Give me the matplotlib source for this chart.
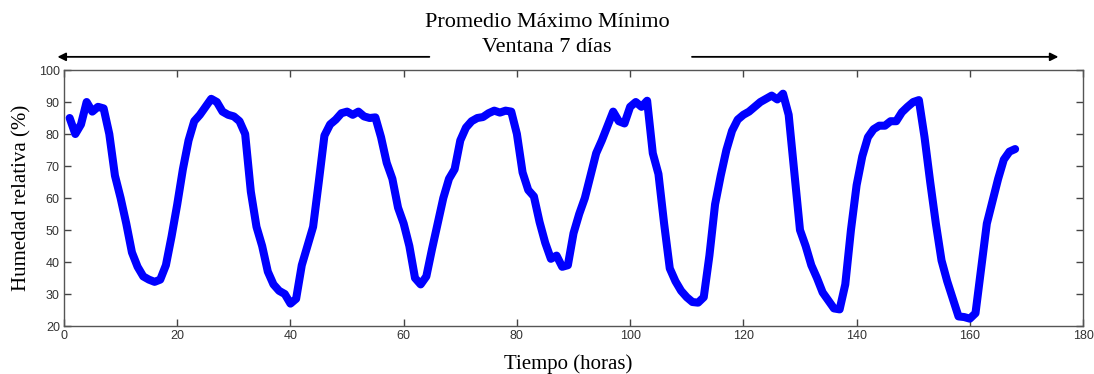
import numpy as np
import matplotlib.pyplot as plt

# relative humidity, one reading per hour over 7 days
horas = np.arange(1, 169)
humedad = [
    85, 80, 83, 90, 87, 88.5, 88, 80, 67, 60,
    52, 43, 38.5, 35.5, 34.5, 33.8, 34.5, 39, 48, 58,
    69, 78, 84, 86, 88.5, 91, 90, 87, 86, 85.5,
    84, 80, 62, 51, 45, 37, 33, 31, 30, 27,
    28.5, 39, 45, 51, 65, 79.5, 83, 84.5, 86.5, 87,
    86, 87, 85.5, 85, 85.2, 79, 71, 66, 57, 52,
    45, 35, 33, 35.5, 44, 52, 60, 66, 69, 78,
    82, 84, 85, 85.3, 86.5, 87.3, 86.7, 87.3, 87, 80,
    68, 62.5, 60.5, 52.5, 46, 41, 42, 38.5, 39, 49,
    55, 60, 67, 74, 78, 82.5, 87, 84, 83.3, 88.5,
    90, 88.5, 90.4, 74, 67.5, 52, 38, 34, 31, 29,
    27.5, 27.3, 29, 42, 58, 67, 75, 81, 84.5, 86,
    87, 88.5, 90, 91, 92, 90.8, 92.6, 86, 68, 50,
    45, 39, 35, 30.5, 28, 25.5, 25.2, 33, 50, 64,
    73, 79, 81.5, 82.6, 82.6, 84, 84, 86.8, 88.5, 90,
    90.6, 79, 65, 52, 40.5, 34, 28.5, 23, 22.8, 22.3,
    24, 38, 52, 59, 66, 72, 74.5, 75.3,
]

xticks = np.arange(0, 181, 20)
yticks = np.arange(20, 101, 10)

serif = 'Liberation Serif'
sans = 'Liberation Sans'

fig = plt.figure(figsize=(10.94, 3.74), dpi=100)
ax = fig.add_axes([0.0585, 0.1283, 0.9315, 0.6845])

ax.plot(horas, humedad, color='#0000ff', lw=5.8, solid_joinstyle='round',
        solid_capstyle='round')

ax.set_xlim(0, 180)
ax.set_ylim(20, 100)
ax.set_xticks(xticks)
ax.set_yticks(yticks)
ax.tick_params(direction='in', length=5, width=1, top=True, right=True,
               colors='#444444', labelsize=9, pad=3)
for lab in ax.get_xticklabels() + ax.get_yticklabels():
    lab.set_family(sans)
    lab.set_color('#333333')
for s in ax.spines.values():
    s.set_color('#555555')
    s.set_linewidth(1)

ax.set_xlabel('Tiempo (horas)', family=serif, fontsize=15, labelpad=9)
ax.xaxis.label.set_x(0.495)
ax.set_ylabel('Humedad relativa (%)', family=serif, fontsize=15, labelpad=5)

# header text with the window arrows on both sides
fig.text(0.5, 0.94, 'Promedio Máximo Mínimo', family=serif, fontsize=16,
         ha='center', va='center')
fig.text(0.5, 0.873, 'Ventana 7 días', family=serif, fontsize=16,
         ha='center', va='center')
arrow = dict(arrowstyle='-|>', color='black', lw=1.3, mutation_scale=12)
fig.patches.append(plt.matplotlib.patches.FancyArrowPatch(
    (0.395, 0.848), (0.05, 0.848), transform=fig.transFigure, **arrow))
fig.patches.append(plt.matplotlib.patches.FancyArrowPatch(
    (0.63, 0.848), (0.97, 0.848), transform=fig.transFigure, **arrow))

fig.savefig('out.png', dpi=100)
